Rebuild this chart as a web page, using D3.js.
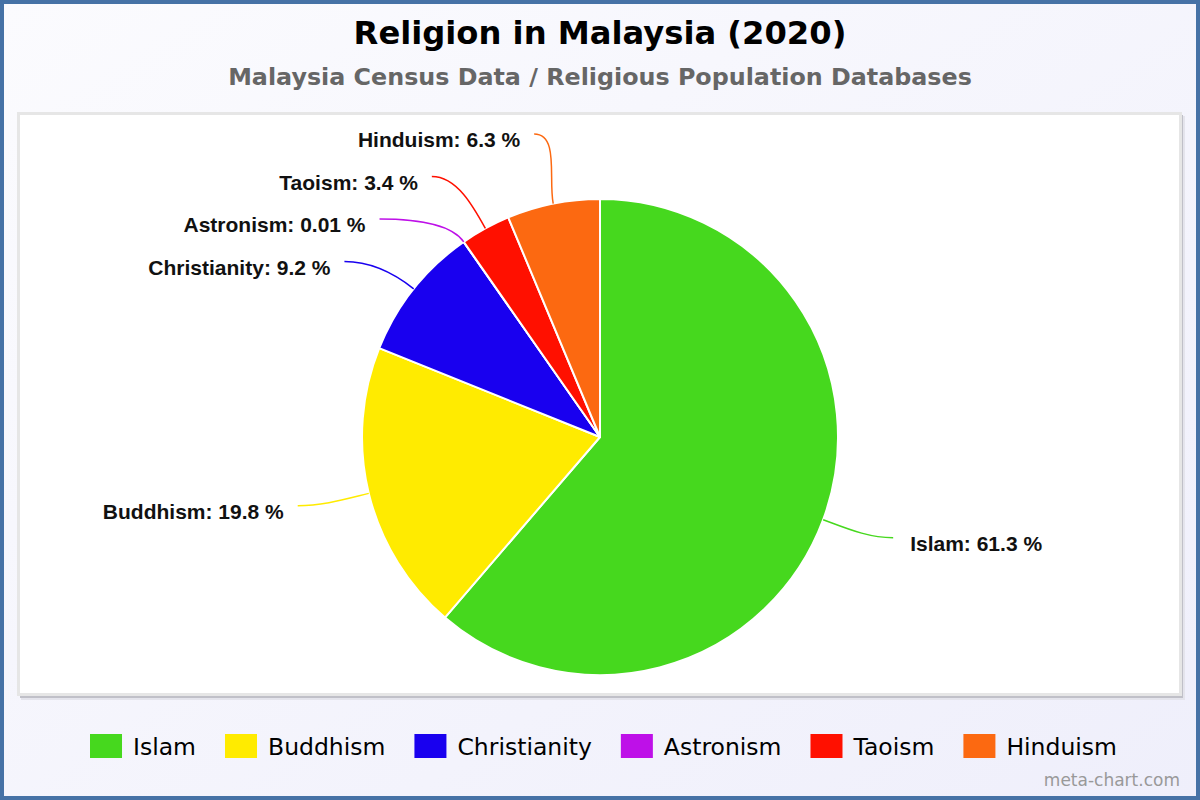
<!DOCTYPE html>
<html><head><meta charset="utf-8">
<script src="https://cdn.jsdelivr.net/npm/d3@7"></script>
<style>html,body{margin:0;padding:0;}svg{display:block;}</style>
</head><body>
<script>
const categories = ["Islam","Buddhism","Christianity","Astronism","Taoism","Hinduism"];
const values = [61.3, 19.8, 9.2, 0.01, 3.4, 6.3];
const valueLabels = ["61.3","19.8","9.2","0.01","3.4","6.3"];
const colors = ["#46d81e","#ffeb00","#1900ef","#be10e8","#ff1000","#fc6911"];
const titleText = "Religion in Malaysia (2020)";
const subtitleText = "Malaysia Census Data / Religious Population Databases";
const creditText = "meta-chart.com";

const W = 1200, H = 800;
const svg = d3.select("body").append("svg").attr("width", W).attr("height", H);
const defs = svg.append("defs");
const bg = defs.append("linearGradient").attr("id","bg").attr("x1","0").attr("y1","0").attr("x2","1").attr("y2","1");
bg.append("stop").attr("offset","0").attr("stop-color","#fbfbfe");
bg.append("stop").attr("offset","1").attr("stop-color","#efeffb");

svg.append("rect").attr("x",2).attr("y",2).attr("width",W-4).attr("height",H-4)
  .attr("fill","url(#bg)").attr("stroke","#4672a6").attr("stroke-width",4);

// plot panel with shadow
svg.append("rect").attr("x",21).attr("y",116).attr("width",1164).attr("height",584).attr("fill","#e4e4ec");
svg.append("rect").attr("x",20).attr("y",115).attr("width",1163).attr("height",583).attr("fill","#c0c0c8");
svg.append("rect").attr("x",18.5).attr("y",113.5).attr("width",1162).attr("height",581).attr("fill","#fff").attr("stroke","#e6e6e6").attr("stroke-width",3);
svg.append("rect").attr("x",20).attr("y",115).attr("width",1159).attr("height",578).attr("fill","#fff");

svg.append("text").attr("x",600).attr("y",44).attr("text-anchor","middle")
  .attr("font-family","DejaVu Sans").attr("font-weight","bold").attr("font-size",32.2).attr("fill","#000").text(titleText);
svg.append("text").attr("x",600).attr("y",85).attr("text-anchor","middle")
  .attr("font-family","DejaVu Sans").attr("font-weight","bold").attr("font-size",23.8).attr("fill","#666").text(subtitleText);

const cx = 600, cy = 437, r = 238;
const data = categories.map((c,i)=>({name:c, value:values[i], label:valueLabels[i], color:colors[i]}));
const pie = d3.pie().sort(null).value(d=>d.value);
const arcs = pie(data);
const arc = d3.arc().innerRadius(0).outerRadius(r);
const g = svg.append("g").attr("transform",`translate(${cx},${cy})`);

g.selectAll("path.slice").data(arcs).enter().append("path").attr("class","slice")
  .attr("d",arc).attr("fill",d=>d.data.color).attr("stroke","#fff").attr("stroke-width",2).attr("stroke-linejoin","round");

// label layout
const natR = 290, lineR = 310, spacing = 42.5;
const labs = arcs.map(a=>{
  const m = (a.startAngle+a.endAngle)/2;
  return {a, m, side: Math.sin(m) >= 0 ? 1 : -1, y: -Math.cos(m)*natR, target: -Math.cos(m)*natR};
});
function distribute(items){
  items.sort((p,q)=>p.target-q.target);
  let groups = items.map(it=>({items:[it]}));
  let changed = true;
  function pos(gr){ const n=gr.items.length; const mean=d3.mean(gr.items,d=>d.target); return {start: mean-(n-1)*spacing/2, end: mean+(n-1)*spacing/2}; }
  while(changed){
    changed=false;
    for(let i=0;i<groups.length-1;i++){
      const p1=pos(groups[i]), p2=pos(groups[i+1]);
      if(p2.start - p1.end < spacing){
        groups[i] = {items: groups[i].items.concat(groups[i+1].items)};
        groups.splice(i+1,1); changed=true; break;
      }
    }
  }
  groups.forEach(gr=>{ const p=pos(gr); gr.items.forEach((it,k)=>{ it.y = p.start + k*spacing; }); });
}
distribute(labs.filter(l=>l.side<0));
distribute(labs.filter(l=>l.side>0));

labs.forEach(l=>{
  const ex = Math.sin(l.m)*r, ey = -Math.cos(l.m)*r;
  const dx = Math.sqrt(Math.max(0, lineR*lineR - l.y*l.y)) * l.side;
  const ux = dx, uy = l.y;
  const c1x = ex + Math.sin(l.m)*25, c1y = ey - Math.cos(l.m)*25;
  const c2x = ux - l.side*25, c2y = uy;
  g.append("path").attr("d",`M${ex},${ey}C${c1x},${c1y} ${c2x},${c2y} ${ux},${uy}`)
    .attr("fill","none").attr("stroke",l.a.data.color).attr("stroke-width",1.5);
  g.append("text").attr("x",ux + (l.side>0 ? 17 : -14)).attr("y",uy+13)
    .attr("text-anchor", l.side>0 ? "start" : "end")
    .attr("font-family","Liberation Sans, Arial").attr("font-weight","bold").attr("font-size",21).attr("fill","#111")
    .text(`${l.a.data.name}: ${l.a.data.label} %`);
});

// legend
const leg = svg.append("g");
const swW = 32, swH = 24, pad = 11, dist = 29, fs = 23.5;
const items = [];
let x = 0;
data.forEach(d=>{
  const it = leg.append("g");
  it.append("rect").attr("x",0).attr("y",0).attr("width",swW).attr("height",swH).attr("fill",d.color);
  const t = it.append("text").attr("x",swW+pad).attr("y",21).attr("font-family","DejaVu Sans").attr("font-size",fs).attr("fill","#000").text(d.name);
  const tw = t.node().getComputedTextLength();
  items.push({it, x});
  x += swW + pad + tw + dist;
});
const total = x - dist;
const lx0 = 603.5 - total/2;
items.forEach(o=>o.it.attr("transform",`translate(${lx0+o.x},734)`));

svg.append("text").attr("x",1180).attr("y",786).attr("text-anchor","end")
  .attr("font-family","DejaVu Sans").attr("font-size",17).attr("fill","#999").text(creditText);
</script>
</body></html>
